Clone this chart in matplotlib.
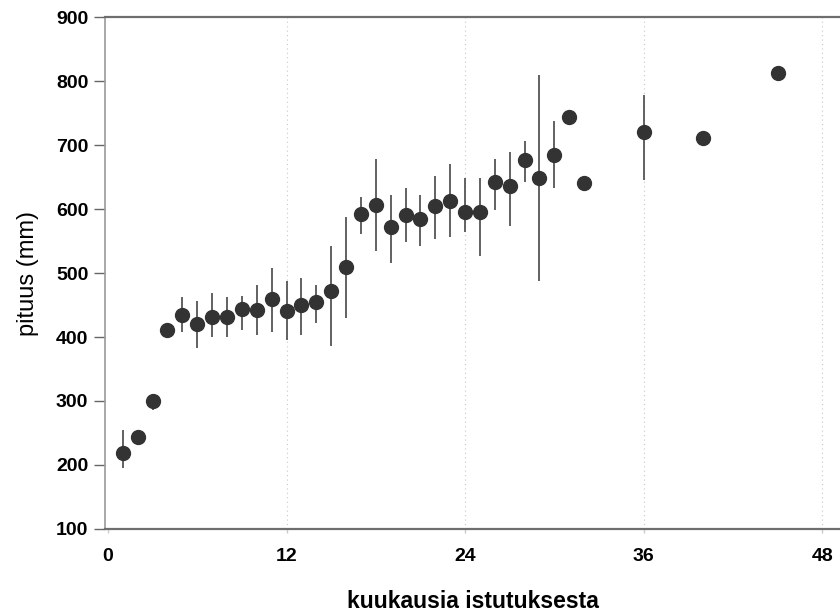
import numpy as np
import matplotlib.pyplot as plt

plt.rcParams['font.family'] = ['Liberation Sans', 'DejaVu Sans']

# kuukaudet istutuksesta, keskipituus ja vaihteluväli (mm)
months = [1, 2, 3, 4, 5, 6, 7, 8, 9, 10, 11, 12, 13, 14, 15, 16,
          17, 18, 19, 20, 21, 22, 23, 24, 25, 26, 27, 28, 29, 30, 31, 32,
          36, 40, 45]
height = [219, 243, 300, 411, 435, 420, 432, 432, 444, 443, 459, 440, 450, 454, 472, 510,
          592, 607, 572, 591, 585, 605, 613, 595, 595, 642, 636, 676, 649, 685, 744, 641,
          721, 711, 813]
low = [195, 243, 286, 411, 408, 383, 400, 400, 411, 403, 408, 395, 403, 422, 386, 430,
       561, 534, 516, 548, 542, 553, 556, 564, 526, 598, 574, 643, 488, 633, 732, 641,
       645, 711, 813]
high = [255, 243, 300, 411, 463, 457, 469, 463, 464, 482, 508, 488, 493, 481, 542, 587,
        619, 678, 622, 633, 622, 651, 670, 649, 649, 678, 689, 707, 810, 738, 744, 641,
        778, 711, 813]

x = np.array(months)
y = np.array(height)
yerr = [y - np.array(low), np.array(high) - y]

fig = plt.figure(figsize=(8.4, 6.15), dpi=100)
ax = fig.add_axes([0.125, 0.14, 0.875, 0.832])

for g in [12, 24, 36, 48]:
    ax.axvline(g, color='#c8c8c8', lw=0.8, ls=(0, (1, 3)), zorder=0)

ax.errorbar(x, y, yerr=yerr, fmt='none', ecolor='#555555', elinewidth=1.3, zorder=2)
ax.plot(x, y, 'o', color='#333333', markersize=10, zorder=3)

ax.set_xlim(-0.2, 49.2)
ax.set_ylim(100, 900)
ax.set_xticks([0, 12, 24, 36, 48])
ax.set_yticks(range(100, 901, 100))

for s in ['top', 'bottom']:
    ax.spines[s].set_color('#6e6e6e')
    ax.spines[s].set_linewidth(1.6)
ax.spines['left'].set_color('#9a9a9a')
ax.spines['left'].set_linewidth(1.2)
ax.spines['right'].set_visible(False)

ax.tick_params(axis='y', length=8, width=1, color='#666666', labelsize=14, pad=4)
ax.tick_params(axis='x', length=3, width=1, color='#cccccc', labelsize=14, pad=11)
for lab in ax.get_xticklabels() + ax.get_yticklabels():
    lab.set_fontweight('bold')

ax.set_ylabel('pituus (mm)', fontsize=17, labelpad=12)
ax.set_xlabel('kuukausia istutuksesta', fontsize=16.5, fontweight='bold', labelpad=18)

fig.savefig('out.png', dpi=100)
